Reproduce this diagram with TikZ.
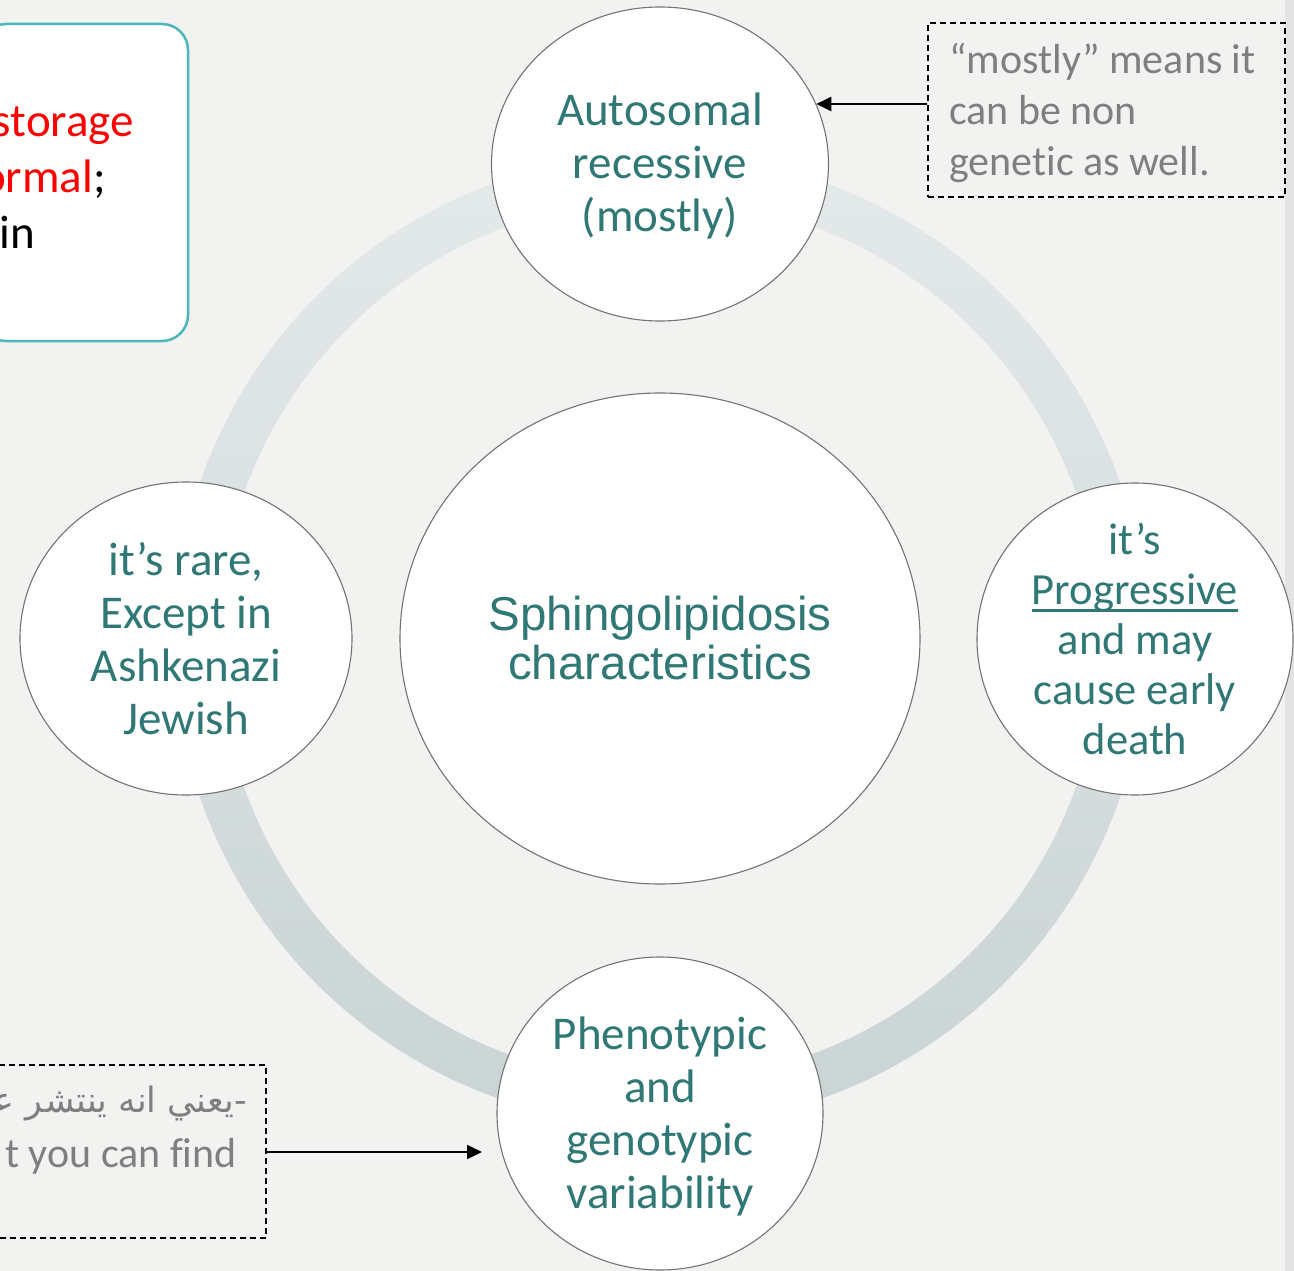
\documentclass[tikz,border=0pt]{standalone}
\usepackage{fontspec}
\setmainfont{Carlito}[Ligatures=NoCommon]
\newfontfamily\arialf{Liberation Sans}
\newfontfamily\arabicfont[Script=Arabic]{DejaVu Sans}
\TeXXeTstate=1
\usetikzlibrary{shapes.geometric,arrows.meta}
\definecolor{pagebg}{HTML}{F2F2F1}
\definecolor{edgeband}{HTML}{E3E3E3}
\definecolor{ringtop}{HTML}{E4E9EA}
\definecolor{ringbot}{HTML}{CAD4D5}
\definecolor{tealtext}{HTML}{2F7876}
\definecolor{boxline}{HTML}{4DB6BD}
\definecolor{notegray}{HTML}{7F7F7F}
% underline drawn as a rule under the word
\newcommand\ulword[1]{\setbox0\hbox{#1}\makebox[0pt][l]{\rule[-7pt]{\wd0}{2.2pt}}\box0}
\tikzset{
  bubble/.style={ellipse, draw=black!55, line width=1.1pt, fill=white, inner sep=0pt},
  bubbletext/.style={text=tealtext, align=center, inner sep=0pt, font=\fontsize{47}{53}\selectfont},
  notebox/.style={draw=black, dash pattern=on 6pt off 4pt, line width=1.5pt, inner sep=0pt},
  notetext/.style={text=notegray, align=left, inner sep=0pt, font=\fontsize{42}{51}\selectfont},
  pointer/.style={-{Triangle[length=15pt,width=14pt]}, line width=2pt, black},
  boxtext/.style={inner sep=0pt, font=\fontsize{47}{57}\selectfont}
}
\begin{document}
\begin{tikzpicture}[x=1pt,y=-1pt]
\useasboundingbox (0,0) rectangle (1294,1271);
\clip (0,0) rectangle (1294,1271);
% page background and right edge band
\fill[pagebg] (0,0) rectangle (1294,1271);
\fill[edgeband] (1285,0) rectangle (1294,1271);

% the ring joining the satellites
\shade[top color=ringtop, bottom color=ringbot, even odd rule]
  (660,640) circle[radius=486pt] (660,640) circle[radius=441pt];

% info box on the left edge
\node[draw=boxline, fill=white, rounded corners=26pt, line width=2.5pt,
      minimum width=208pt, minimum height=317pt, inner sep=0pt] (info) at (84,182.5) {};
\node[boxtext, anchor=base east, text=red] (infoA) at (134,137) {storage};
\node[boxtext, anchor=base east] (infoB) at (106,193) {\textcolor{red}{ormal};};
\node[boxtext, anchor=base east] (infoC) at (35,248) {in};

% central bubble
\node[bubble, minimum width=520pt, minimum height=491pt] (core) at (660,638.5) {};
\node[text=tealtext, align=center, inner sep=0pt, font=\arialf\fontsize{47.5}{49}\selectfont]
  (coreT) at (core.center) {Sphingolipidosis\\characteristics};

% satellites
\node[bubble, minimum width=337pt, minimum height=314pt] (auto) at (660,164) {};
\node[bubbletext] (autoT) at ([yshift=-2pt]auto.center) {Autosomal\\recessive\\(mostly)};

\node[bubble, minimum width=332pt, minimum height=313pt] (rare) at (186,638.5) {};
\node[bubbletext] (rareT) at (rare.center) {it’s rare,\\Except in\\Ashkenazi\\Jewish};

\node[bubble, minimum width=316pt, minimum height=312pt] (prog) at (1135,639) {};
\node[bubbletext, font=\fontsize{44.5}{50}\selectfont] (progT) at (prog.center)
  {it’s\\\ulword{Progressive}\\and may\\cause early\\death};

\node[bubble, minimum width=326pt, minimum height=313pt] (vari) at (660,1113.5) {};
\node[bubbletext] (variT) at ([yshift=-3pt]vari.center) {Phenotypic\\and\\genotypic\\variability};

% dashed notes
\node[notebox, minimum width=357pt, minimum height=174pt] (note1) at (1106.5,110) {};
\node[notetext, anchor=west] (note1T) at (949,113)
  {“mostly” means it\\can be non\\genetic as well.};
\draw[pointer] (note1.west |- auto.21.44) -- (auto.21.44);

\node[notebox, minimum width=286pt, minimum height=173pt] (note2) at (123,1151.5) {};
\node[text=notegray, inner sep=0pt, anchor=base east, font=\fontsize{35}{40}\selectfont]
  (note2A) at (247,1112) {\arabicfont\beginR -يعني انه ينتشر ع^^^^200d\endR};
\node[notetext, anchor=base east] (note2B) at (237,1167) {t you can find};
\coordinate (tip2) at (482,1152);
\draw[pointer] (note2.east |- tip2) -- (tip2);
\end{tikzpicture}
\end{document}
